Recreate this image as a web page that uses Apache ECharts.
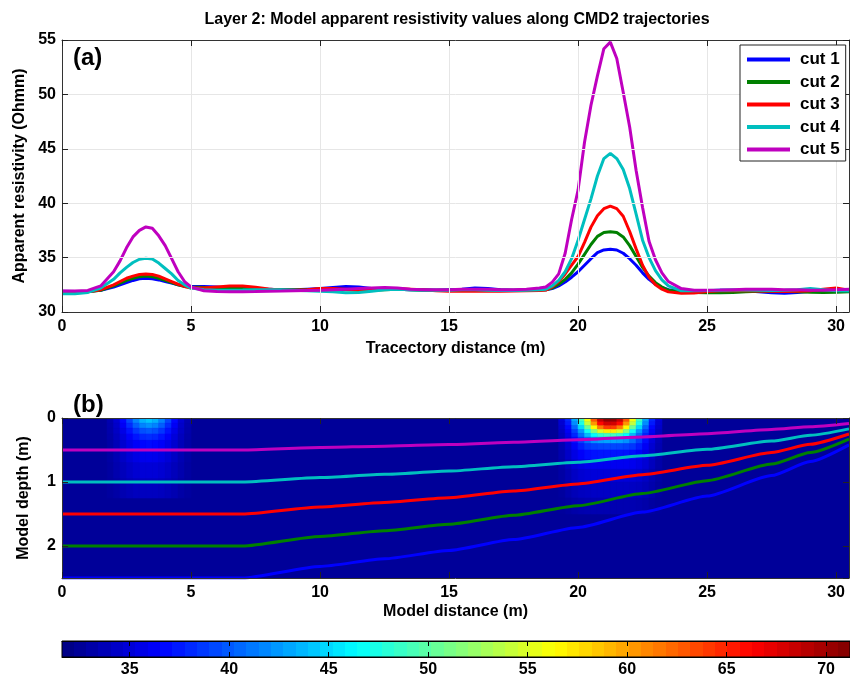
<!DOCTYPE html>
<html><head><meta charset="utf-8">
<script src="https://cdn.jsdelivr.net/npm/echarts@6/dist/echarts.min.js"></script>
<style>html,body{margin:0;padding:0;background:#fff}#c{width:850px;height:680px}</style>
</head><body><div id="c"></div>
<script>
// ---------- Panel (a): apparent resistivity along trajectories ----------
const xs = [0,0.5,1,1.5,
  2,2.25,2.5,2.75,3,3.25,3.5,3.75,4,4.25,4.5,4.75,5,
  5.5,6,6.5,7,7.5,8,8.5,9,9.5,10,10.5,11,11.5,12,12.5,13,13.5,14,14.5,15,15.5,16,16.5,17,17.5,18,18.5,
  18.75,19,19.25,19.5,19.75,20,20.25,20.5,20.75,21,21.25,21.5,21.75,22,22.25,22.5,22.75,23,23.25,23.5,
  24,24.5,25,25.5,26,26.5,27,27.5,28,28.5,29,29.5,30,30.5];

const cut1 = [31.9,31.88,31.9,32.0,
  32.3,32.5,32.7,32.9,33.05,33.1,33.05,32.95,32.8,32.65,32.5,32.4,32.35,
  32.35,32.3,32.2,32.15,32.1,32.1,32.05,32.05,32.1,32.15,32.25,32.35,32.3,32.15,32.1,32.1,32.05,32.05,32.0,32.05,32.1,32.2,32.15,32.05,32.0,32.05,32.1,
  32.05,32.15,32.4,32.75,33.2,33.7,34.3,34.9,35.45,35.7,35.76,35.7,35.4,34.9,34.3,33.6,33.0,32.55,32.25,32.05,
  31.95,31.9,31.95,32.0,32.0,31.95,31.85,31.78,31.72,31.8,31.9,31.95,31.95,31.95];
const cut2 = [31.85,31.82,31.85,32.0,
  32.4,32.65,32.9,33.1,33.25,33.3,33.25,33.1,32.9,32.7,32.5,32.35,32.3,
  32.25,32.2,32.2,32.15,32.1,32.05,32.05,32.05,32.05,32.1,32.1,32.05,32.0,32.0,32.05,32.1,32.05,32.0,32.0,32.0,32.05,32.05,32.05,32.0,32.0,32.0,32.0,
  32.05,32.2,32.55,33.0,33.6,34.4,35.3,36.2,36.95,37.3,37.38,37.3,36.9,36.1,35.1,34.1,33.3,32.7,32.3,32.0,
  31.85,31.8,31.78,31.78,31.8,31.85,31.9,31.92,31.9,31.85,31.82,31.8,31.82,31.85];
const cut3 = [31.82,31.8,31.85,32.05,
  32.5,32.8,33.1,33.3,33.45,33.5,33.45,33.3,33.05,32.8,32.55,32.35,32.2,
  32.2,32.3,32.38,32.38,32.28,32.12,32.0,32.0,32.05,32.15,32.15,32.1,32.05,32.05,32.1,32.15,32.1,32.05,31.95,31.9,31.9,31.9,31.92,31.9,31.92,31.95,31.98,
  32.02,32.3,32.8,33.5,34.3,35.1,36.4,37.8,38.85,39.5,39.74,39.5,38.8,37.4,35.8,34.3,33.2,32.5,32.1,31.85,
  31.72,31.75,31.88,31.95,31.95,31.95,31.92,31.9,31.88,31.9,31.95,32.1,32.2,32.0];
const cut4 = [31.68,31.68,31.8,32.2,
  33.0,33.6,34.1,34.55,34.85,34.94,34.88,34.5,34.0,33.5,32.9,32.5,32.2,
  32.05,32.0,32.0,32.02,32.05,32.05,32.05,32.0,31.95,31.9,31.85,31.78,31.8,31.9,32.05,32.1,32.05,32.0,32.0,32.0,32.05,32.05,32.0,31.98,31.98,32.0,32.05,
  32.1,32.4,32.9,33.7,34.9,36.6,38.5,40.4,42.5,44.1,44.58,44.1,43.1,41.35,39.0,36.6,35.0,33.8,32.95,32.4,
  31.95,31.95,31.98,32.0,32.02,32.02,32.0,31.98,32.0,32.05,32.15,32.05,31.95,31.92];
const cut5 = [31.93,31.93,31.98,32.4,
  33.7,34.7,35.9,36.9,37.5,37.82,37.7,37.0,36.1,34.9,33.7,32.8,32.3,
  31.95,31.88,31.87,31.87,31.88,31.9,31.92,31.95,31.98,32.0,32.05,32.1,32.15,32.2,32.25,32.2,32.1,32.05,32.05,32.05,32.1,32.1,32.08,32.05,32.05,32.1,32.2,
  32.3,32.75,33.5,35.4,38.5,41.2,45.6,49.0,51.7,54.2,54.8,53.3,50.2,47.0,43.0,39.6,36.5,34.8,33.6,32.8,
  32.15,32.0,32.0,32.02,32.05,32.08,32.1,32.08,32.05,32.05,32.0,32.0,32.05,32.1];

const cutNames = ['cut 1','cut 2','cut 3','cut 4','cut 5'];
const cutColors = ['#0000ff','#008000','#ff0000','#00bfbf','#bf00bf'];

// ---------- Panel (b): trajectories (depth, m) ----------
const trajX = [0,7,10,12.5,15,17.5,20,22.5,25,27.5,29,30.5];
const traj1 = [2.5,2.5,2.32,2.2,2.07,1.9,1.71,1.47,1.22,0.9,0.68,0.42];
const traj2 = [2,2,1.85,1.76,1.66,1.52,1.37,1.18,0.98,0.72,0.54,0.33];
const traj3 = [1.5,1.5,1.39,1.32,1.245,1.14,1.03,0.885,0.74,0.54,0.41,0.25];
const traj4 = [1,1,0.93,0.88,0.83,0.76,0.69,0.59,0.49,0.36,0.27,0.17];
const traj5 = [0.5,0.5,0.46,0.44,0.415,0.38,0.34,0.295,0.245,0.18,0.135,0.085];

// model resistivity: background value and two anomalies (cell edges + values)
const bgValue = 32.6;
const anomAxEdges = [1.75,2,2.25,2.5,2.75,3,3.25,3.5,3.75,4,4.25,4.5,4.75,5];
const anomAdEdges = [0,0.08,0.16,0.25,0.35,0.5,0.7,0.95,1.25];
const anomAVals = [
  [33.5,34.8,36.8,39.2,41.6,43.4,44.2,43.4,41.6,39.2,36.8,34.8,33.5],
  [33.4,34.5,36.2,38.2,40.2,41.6,42.2,41.6,40.2,38.2,36.2,34.5,33.4],
  [33.3,34.3,35.6,37.2,38.6,39.6,40.0,39.6,38.6,37.2,35.6,34.3,33.3],
  [33.2,34.0,35.1,36.3,37.3,38.0,38.2,38.0,37.3,36.3,35.1,34.0,33.2],
  [33.1,33.8,34.7,35.6,36.3,36.7,36.9,36.7,36.3,35.6,34.7,33.8,33.1],
  [33.0,33.6,34.3,35.0,35.5,35.8,35.9,35.8,35.5,35.0,34.3,33.6,33.0],
  [32.9,33.4,33.9,34.4,34.8,35.0,35.0,35.0,34.8,34.4,33.9,33.4,32.9],
  [32.8,33.1,33.5,33.8,34.0,34.1,34.1,34.1,34.0,33.8,33.5,33.1,32.8]
];
const anomBxEdges = [19.25,19.5,19.75,20,20.25,20.5,20.75,21,21.25,21.5,21.75,22,22.25,22.5,22.75,23,23.25];
const anomBdEdges = [0,0.06,0.12,0.18,0.24,0.3,0.4,0.5,0.65,0.8,1.0,1.25,1.5];
const anomBVals = [
  [35.0,38.0,43.0,49.0,56.0,63.0,68.5,70.5,70.5,68.5,63.0,56.0,49.0,43.0,38.0,35.0],
  [34.8,37.5,42.0,47.5,54.0,60.5,66.0,68.0,68.0,66.0,60.5,54.0,47.5,42.0,37.5,34.8],
  [34.5,36.8,40.5,45.0,50.5,56.5,61.5,64.0,64.0,61.5,56.5,50.5,45.0,40.5,36.8,34.5],
  [34.2,36.2,39.0,42.5,47.0,51.5,55.0,57.0,57.0,55.0,51.5,47.0,42.5,39.0,36.2,34.2],
  [34.0,35.7,38.0,40.8,43.8,46.5,48.3,49.0,49.0,48.3,46.5,43.8,40.8,38.0,35.7,34.0],
  [33.8,35.2,37.0,39.0,40.8,42.2,42.8,43.0,43.0,42.8,42.2,40.8,39.0,37.0,35.2,33.8],
  [33.6,34.8,36.2,37.6,38.6,39.0,39.2,39.3,39.3,39.2,39.0,38.6,37.6,36.2,34.8,33.6],
  [33.4,34.4,35.5,36.4,37.0,37.2,37.3,37.3,37.3,37.3,37.2,37.0,36.4,35.5,34.4,33.4],
  [33.2,34.0,34.9,35.5,35.9,36.0,36.0,36.0,36.0,36.0,36.0,35.9,35.5,34.9,34.0,33.2],
  [33.0,33.6,34.3,34.8,35.0,35.1,35.1,35.1,35.1,35.1,35.1,35.0,34.8,34.3,33.6,33.0],
  [32.8,33.3,33.8,34.1,34.2,34.3,34.3,34.3,34.3,34.3,34.3,34.2,34.1,33.8,33.3,32.8],
  [32.7,32.9,33.2,33.4,33.5,33.5,33.5,33.5,33.5,33.5,33.5,33.5,33.4,33.2,32.9,32.7]
];

// colour scale
const cMin = 31.6, cMax = 71.2;
const cbTicks = [35,40,45,50,55,60,65,70];

const FONT = "'Liberation Sans', Arial, sans-serif";

function jet(t){
  const c = v => Math.max(0, Math.min(1, v));
  const r = c(Math.min(4*t-1.5, -4*t+4.5));
  const g = c(Math.min(4*t-0.5, -4*t+3.5));
  const b = c(Math.min(4*t+0.5, -4*t+2.5));
  return 'rgb(' + Math.round(r*255) + ',' + Math.round(g*255) + ',' + Math.round(b*255) + ')';
}
const jetStops = [0,1,2,3,4,5,6,7,8].map(i => jet(i/8));
const bgColor = jet((bgValue - cMin)/(cMax - cMin));
const cbStops = [];
for (let i = 0; i < 64; i++) {
  const col = jet((i + 0.5)/64);
  cbStops.push({offset: i/64, color: col});
  cbStops.push({offset: (i+1)/64, color: col});
}

function cells(xE, dE, vals){
  const out = [];
  for (let r = 0; r < vals.length; r++)
    for (let c = 0; c < vals[r].length; c++)
      out.push([xE[c], xE[c+1], dE[r], dE[r+1], vals[r][c]]);
  return out;
}
const heatData = cells(anomAxEdges, anomAdEdges, anomAVals).concat(cells(anomBxEdges, anomBdEdges, anomBVals));

const labelStyle = {color:'#000', fontFamily:FONT, fontWeight:'bold', fontSize:16};
const nameStyle = {color:'#000', fontFamily:FONT, fontWeight:'bold', fontSize:16};
const axLine = {show:true, onZero:false, lineStyle:{color:'#333', width:1}};
const tick = {show:true, inside:true, length:6, lineStyle:{color:'#222'}};

const series = [];
[cut1,cut2,cut3,cut4,cut5].forEach((arr,i) => {
  series.push({type:'line', name:cutNames[i], xAxisIndex:0, yAxisIndex:0,
    data: xs.map((x,j) => [x, arr[j]]), showSymbol:false, smooth:false,
    lineStyle:{color:cutColors[i], width:3}, itemStyle:{color:cutColors[i]}});
});
series.push({type:'custom', name:'model', xAxisIndex:1, yAxisIndex:1, data:heatData, clip:true,
  encode:{x:[0,1], y:[2,3]},
  renderItem:(params, api) => {
    const p1 = api.coord([api.value(0), api.value(2)]);
    const p2 = api.coord([api.value(1), api.value(3)]);
    const col = api.visual('color');
    return {type:'rect', shape:{x:Math.min(p1[0],p2[0]), y:Math.min(p1[1],p2[1]),
      width:Math.abs(p2[0]-p1[0]), height:Math.abs(p2[1]-p1[1])},
      style:{fill:col, stroke:col, lineWidth:0.6}};
  }});
const heatIndex = series.length - 1;
[traj1,traj2,traj3,traj4,traj5].forEach((arr,i) => {
  series.push({type:'line', name:'traj'+(i+1), xAxisIndex:1, yAxisIndex:1,
    data: trajX.map((x,j) => [x, arr[j]]), showSymbol:false, smooth:0.2, smoothMonotone:'x',
    lineStyle:{color:cutColors[i], width:3}});
});
series.push({type:'custom', name:'colorbar', xAxisIndex:2, yAxisIndex:2, data:[[cMin, cMax]],
  encode:{x:[0,1]}, z:1,
  renderItem:(params, api) => {
    const p1 = api.coord([api.value(0), 0]);
    const p2 = api.coord([api.value(1), 1]);
    return {type:'rect', shape:{x:p1[0], y:p2[1], width:p2[0]-p1[0], height:p1[1]-p2[1]},
      style:{fill:{type:'linear', x:0, y:0, x2:1, y2:0, colorStops:cbStops}, stroke:'#000', lineWidth:1}};
  }});

const mirrorX = (g, min, max, interval) => ({type:'value', gridIndex:g, position:'top', min:min, max:max, interval:interval,
  axisLine:axLine, axisTick:tick, axisLabel:{show:false}, splitLine:{show:false}, z:10});
const mirrorY = (g, min, max, interval, inv) => ({type:'value', gridIndex:g, position:'right', min:min, max:max, interval:interval, inverse:!!inv,
  axisLine:axLine, axisTick:tick, axisLabel:{show:false}, splitLine:{show:false}, z:10});

const option = {
  animation:false,
  backgroundColor:'#fff',
  graphic:[
    {type:'text', x:457, y:20, style:{text:'Layer 2: Model apparent resistivity values along CMD2 trajectories',
      font:"bold 16px 'Liberation Sans', Arial, sans-serif", fill:'#000', textAlign:'center', textVerticalAlign:'middle'}},
    {type:'text', x:73, y:58, z:10, style:{text:'(a)', font:"bold 24px 'Liberation Sans', Arial, sans-serif", fill:'#000', textAlign:'left', textVerticalAlign:'middle'}},
    {type:'text', x:73, y:405, style:{text:'(b)', font:"bold 24px 'Liberation Sans', Arial, sans-serif", fill:'#000', textAlign:'left', textVerticalAlign:'middle'}}
  ],
  legend:{data:cutNames, orient:'vertical', left:740, top:45, itemWidth:43, itemHeight:4, icon:'rect',
    itemGap:5.5, padding:[6,6,3,7], borderColor:'#222', borderWidth:1, backgroundColor:'#fff', z:20,
    selectedMode:false, textStyle:{fontFamily:FONT, fontWeight:'bold', fontSize:17, color:'#000', lineHeight:17, padding:[0,0,0,5]}},
  visualMap:{type:'continuous', show:false, seriesIndex:heatIndex, dimension:4, min:cMin, max:cMax, inRange:{color:jetStops}},
  grid:[
    {left:62, top:40, width:787, height:272, show:true, borderWidth:0, backgroundColor:'#fff'},
    {left:62, top:418, width:787, height:160, show:true, borderWidth:0, backgroundColor:bgColor},
    {left:62, top:641, width:788, height:16}
  ],
  xAxis:[
    {type:'value', gridIndex:0, min:0, max:30.5, interval:5, axisLine:axLine, axisTick:tick, z:10,
     axisLabel:Object.assign({margin:7, showMaxLabel:false}, labelStyle),
     splitLine:{show:true, lineStyle:{color:'#e6e6e6', width:1}},
     name:'Tracectory distance (m)', nameLocation:'middle', nameGap:29, nameTextStyle:nameStyle},
    {type:'value', gridIndex:1, min:0, max:30.5, interval:5, axisLine:axLine, axisTick:tick, z:10,
     axisLabel:Object.assign({margin:7, showMaxLabel:false}, labelStyle), splitLine:{show:false},
     name:'Model distance (m)', nameLocation:'middle', nameGap:26, nameTextStyle:nameStyle},
    {type:'value', gridIndex:2, min:cMin, max:cMax, axisLine:{show:true, onZero:false, lineStyle:{color:'#000'}}, z:10,
     axisTick:{show:true, inside:true, length:5, lineStyle:{color:'#000'}, customValues:cbTicks},
     axisLabel:Object.assign({margin:5, customValues:cbTicks}, labelStyle), splitLine:{show:false}},
    {type:'value', gridIndex:2, position:'top', min:cMin, max:cMax, axisLine:{show:true, onZero:false, lineStyle:{color:'#000'}}, z:10,
     axisTick:{show:true, inside:true, length:5, lineStyle:{color:'#000'}, customValues:cbTicks},
     axisLabel:{show:false}, splitLine:{show:false}},
    mirrorX(0, 0, 30.5, 5),
    mirrorX(1, 0, 30.5, 5)
  ],
  yAxis:[
    {type:'value', gridIndex:0, min:30, max:55, interval:5, axisLine:axLine, axisTick:tick, z:10,
     axisLabel:Object.assign({margin:6}, labelStyle),
     splitLine:{show:true, lineStyle:{color:'#e6e6e6', width:1}},
     name:'Apparent resistivity (Ohmm)', nameLocation:'middle', nameGap:30, nameTextStyle:nameStyle},
    {type:'value', gridIndex:1, min:0, max:2.5, interval:1, inverse:true, axisLine:axLine, axisTick:tick, z:10,
     axisLabel:Object.assign({margin:6, showMaxLabel:false}, labelStyle), splitLine:{show:false},
     name:'Model depth (m)', nameLocation:'middle', nameGap:30, nameTextStyle:nameStyle},
    {type:'value', gridIndex:2, min:0, max:1, show:false},
    mirrorY(0, 30, 55, 5, false),
    mirrorY(1, 0, 2.5, 1, true)
  ],
  series:series
};
const chart = echarts.init(document.getElementById('c'), null, {renderer:'canvas'});
chart.setOption(option);
</script></body></html>
